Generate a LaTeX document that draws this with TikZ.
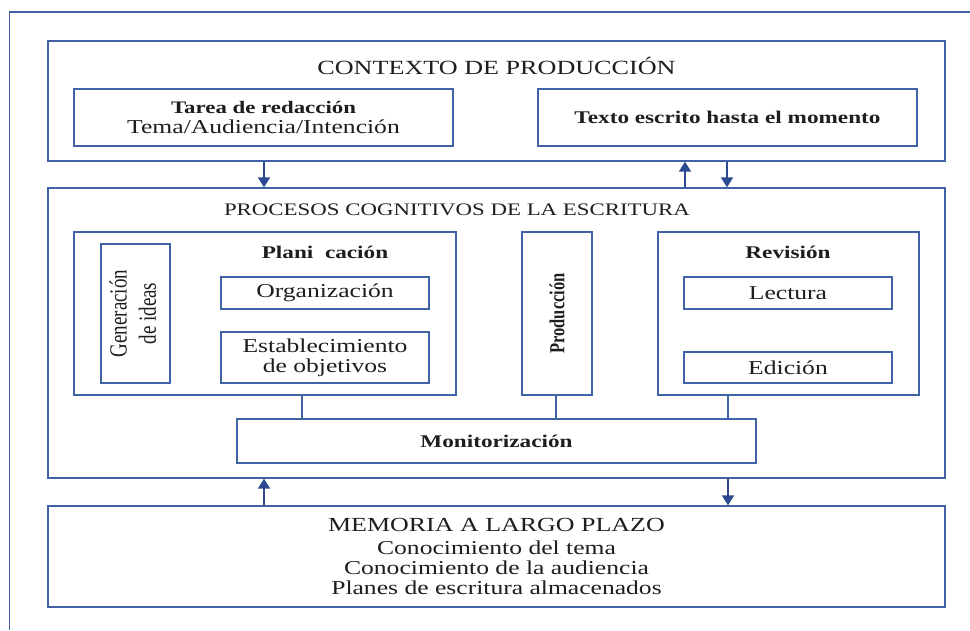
\documentclass[tikz,border=0pt]{standalone}
\usepackage{fontspec}
\usepackage{graphicx}
\usepackage{tikz}
\usetikzlibrary{arrows.meta}
\setmainfont[FakeStretch=1.3]{Liberation Serif}
\newfontfamily\rotfont{Liberation Serif}
\definecolor{boxblue}{HTML}{4262A8}
\definecolor{arrowblue}{HTML}{2D4A8F}
\definecolor{ink}{HTML}{1E1E1E}
\newcommand{\pxu}{0.025cm}

\begin{document}
\begin{tikzpicture}
[x=0.025cm,y=-0.025cm,every node/.style={text=ink}]
\tikzstyle{box}=[draw=boxblue,line width=1pt,inner sep=0pt,align=center,font=\fontsize{14}{14.2}\selectfont]
\tikzstyle{head}=[font=\bfseries\fontsize{12.7}{14.2}\selectfont]
\tikzstyle{caps}=[font=\fontsize{14.3}{17}\selectfont]
\tikzstyle{link}=[draw=boxblue,line width=1pt]
\tikzstyle{arr}=[draw=arrowblue,fill=arrowblue,line width=1pt,-{Triangle[width=8.5pt,length=7pt]}]

\useasboundingbox(0,0)rectangle(970,630);
\fill[white](0,0)rectangle(970,630);
\draw[boxblue,line width=1.2pt](9.5,630)--(9.5,12)--(970,12);

\node(ctx)[box,minimum width=897*\pxu,minimum height=120*\pxu]at(496.5,101){};
\node(ctxt)[caps]at(496.5,66){CONTEXTO DE PRODUCCIÓN};
\node(tarea)[box,minimum width=379*\pxu,minimum height=57*\pxu]at(263.5,117.5){{\bfseries\fontsize{12.5}{14.2}\selectfont Tarea de redacción}\\Tema/Audiencia/Intención};
\node(texto)[box,head,minimum width=379*\pxu,minimum height=57*\pxu]at(727.5,117.5){Texto escrito hasta el momento};

\node(proc)[box,minimum width=897*\pxu,minimum height=290*\pxu]at(496.5,333){};
\node(proct)[caps,font=\fontsize{12.5}{15}\selectfont]at(457,209.5){PROCESOS COGNITIVOS DE LA ESCRITURA};

\node(plan)[box,minimum width=382*\pxu,minimum height=163*\pxu]at(265,313.5){};
\node(plant)[head]at(325,252){Plani~~cación};
\node(gen)[box,minimum width=139*\pxu,minimum height=69*\pxu,rotate=90]at(135.5,313.5){\rotfont\fontsize{13.5}{16}\selectfont\scalebox{1}[1.3]{\begin{tabular}{@{}c@{}}Generación\\de ideas\end{tabular}}};
\node(org)[box,minimum width=208*\pxu,minimum height=32*\pxu]at(325,293){Organización};
\node(est)[box,minimum width=208*\pxu,minimum height=51*\pxu]at(325,357.5){Establecimiento\\de objetivos};

\node(prod)[box,minimum width=163*\pxu,minimum height=70*\pxu,rotate=90]at(557,313.5){\rotfont\bfseries\fontsize{11.7}{14}\selectfont\scalebox{1}[1.3]{Producción}};

\node(rev)[box,minimum width=261*\pxu,minimum height=163*\pxu]at(788.5,313.5){};
\node(revt)[head]at(788,252){Revisión};
\node(lect)[box,minimum width=208*\pxu,minimum height=32*\pxu]at(788,293){Lectura};
\node(edic)[box,minimum width=208*\pxu,minimum height=31*\pxu]at(788,367.5){Edición};

\node(monit)[box,head,minimum width=519*\pxu,minimum height=44*\pxu]at(496.5,441){Monitorización};
\draw[link](302,0|-plan.south)--(302,0|-monit.north);
\draw[link](556,0|-prod.west)--(556,0|-monit.north);
\draw[link](728,0|-rev.south)--(728,0|-monit.north);

\node(mem)[box,minimum width=897*\pxu,minimum height=101*\pxu]at(496.5,556.5){{\fontsize{14.2}{14.2}\selectfont MEMORIA A LARGO PLAZO}\\[2.2pt]Conocimiento del tema\\Conocimiento de la audiencia\\Planes de escritura almacenados};

\draw[arr](264,0|-ctx.south)--(264,0|-proc.north);
\draw[arr](685,0|-proc.north)--(685,0|-ctx.south);
\draw[arr](727,0|-ctx.south)--(727,0|-proc.north);
\draw[arr](264,0|-mem.north)--(264,0|-proc.south);
\draw[arr](728,0|-proc.south)--(728,0|-mem.north);
\end{tikzpicture}
\end{document}
